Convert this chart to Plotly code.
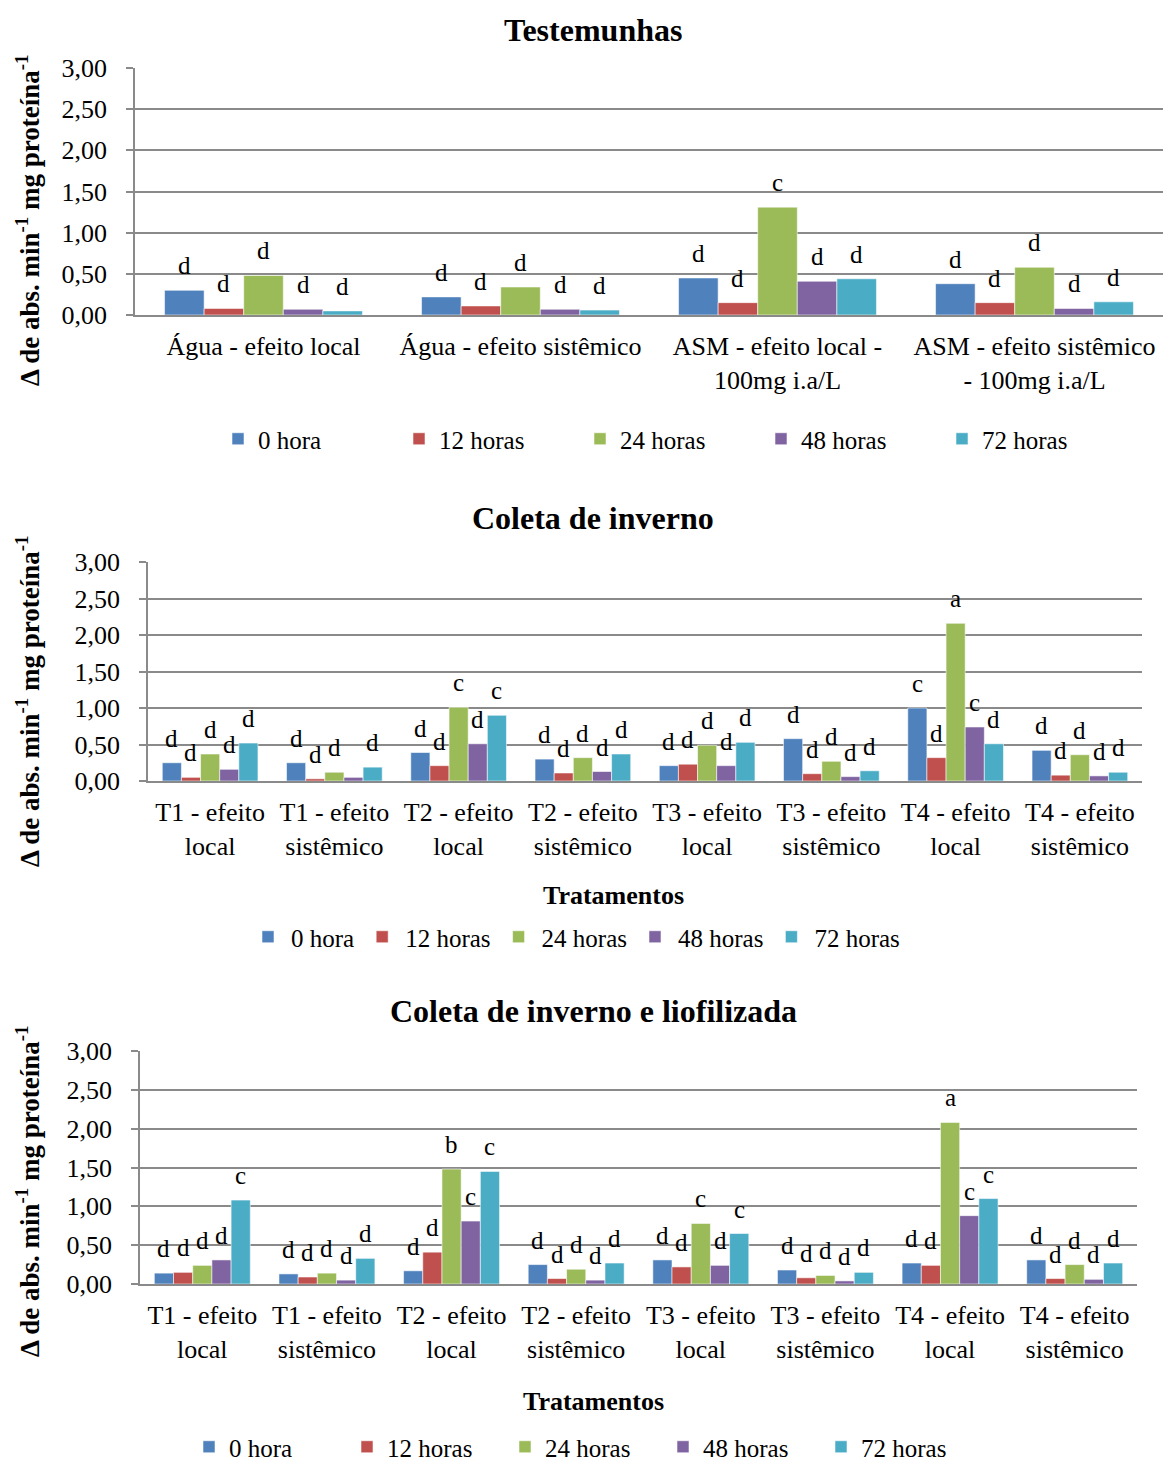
import plotly.graph_objects as go

# ---- data -------------------------------------------------------------
series_names = ["0 hora", "12 horas", "24 horas", "48 horas", "72 horas"]
series_colors = ["#4F81BD", "#C0504D", "#9BBB59", "#8064A2", "#4BACC6"]

# Testemunhas
test_categories = [
    "Água - efeito local",
    "Água - efeito sistêmico",
    "ASM - efeito local -<br>100mg i.a/L",
    "ASM - efeito sistêmico<br>- 100mg i.a/L",
]
test_values = [
    [0.30, 0.22, 0.45, 0.38],   # 0 hora
    [0.08, 0.11, 0.15, 0.15],   # 12 horas
    [0.48, 0.34, 1.31, 0.58],   # 24 horas
    [0.07, 0.07, 0.41, 0.08],   # 48 horas
    [0.05, 0.06, 0.44, 0.16],   # 72 horas
]
test_letters = [
    ["d", "d", "d", "d"],
    ["d", "d", "d", "d"],
    ["d", "d", "c", "d"],
    ["d", "d", "d", "d"],
    ["d", "d", "d", "d"],
]

# Tratamentos (coleta de inverno / coleta de inverno e liofilizada)
treat_categories = [
    "T1 - efeito<br>local", "T1 - efeito<br>sistêmico",
    "T2 - efeito<br>local", "T2 - efeito<br>sistêmico",
    "T3 - efeito<br>local", "T3 - efeito<br>sistêmico",
    "T4 - efeito<br>local", "T4 - efeito<br>sistêmico",
]

winter_values = [
    [0.25, 0.25, 0.39, 0.30, 0.21, 0.58, 1.00, 0.42],   # 0 hora
    [0.05, 0.03, 0.21, 0.11, 0.23, 0.10, 0.32, 0.08],   # 12 horas
    [0.37, 0.12, 1.01, 0.32, 0.49, 0.27, 2.16, 0.36],   # 24 horas
    [0.16, 0.05, 0.51, 0.13, 0.21, 0.06, 0.74, 0.07],   # 48 horas
    [0.52, 0.19, 0.90, 0.37, 0.53, 0.14, 0.51, 0.12],   # 72 horas
]
winter_letters = [
    ["d", "d", "d", "d", "d", "d", "c", "d"],
    ["d", "d", "d", "d", "d", "d", "d", "d"],
    ["d", "d", "c", "d", "d", "d", "a", "d"],
    ["d", "", "d", "d", "d", "d", "c", "d"],
    ["d", "d", "c", "d", "d", "d", "d", "d"],
]

lyo_values = [
    [0.14, 0.13, 0.17, 0.25, 0.31, 0.18, 0.27, 0.31],   # 0 hora
    [0.15, 0.09, 0.41, 0.07, 0.22, 0.08, 0.24, 0.07],   # 12 horas
    [0.24, 0.14, 1.48, 0.19, 0.78, 0.11, 2.08, 0.25],   # 24 horas
    [0.31, 0.05, 0.81, 0.05, 0.24, 0.04, 0.88, 0.06],   # 48 horas
    [1.08, 0.33, 1.45, 0.27, 0.65, 0.15, 1.10, 0.27],   # 72 horas
]
lyo_letters = [
    ["d", "d", "d", "d", "d", "d", "d", "d"],
    ["d", "d", "d", "d", "d", "d", "d", "d"],
    ["d", "d", "b", "d", "c", "d", "a", "d"],
    ["d", "d", "c", "d", "d", "d", "c", "d"],
    ["c", "d", "c", "d", "c", "d", "c", "d"],
]

y_ticks = [0, 0.5, 1.0, 1.5, 2.0, 2.5, 3.0]

# ---- layout helpers ---------------------------------------------------
W, H = 1163, 1461
FONT = "Liberation Serif"
GRID = "#8a8a8a"
BAR_W = 0.154


def fx(x):
    return x / W


def fy(y):
    return 1 - y / H


panels = [
    dict(title="Testemunhas", cats=test_categories, vals=test_values,
         letters=test_letters, x0=135, x1=1163, top=68, bot=315,
         title_x=593, title_y=30, xtitle=None,
         legend=dict(x=218, y=439, entry=136, itemw=30), ytitle_y=221),
    dict(title="Coleta de inverno", cats=treat_categories, vals=winter_values,
         letters=winter_letters, x0=148, x1=1142, top=562, bot=781,
         title_x=593, title_y=518, xtitle=(613, 896),
         legend=dict(x=245, y=937, entry=0, itemw=36), ytitle_y=702),
    dict(title="Coleta de inverno e liofilizada", cats=treat_categories,
         vals=lyo_values, letters=lyo_letters, x0=140, x1=1137, top=1051,
         bot=1284, title_x=593, title_y=1011, xtitle=(593, 1401),
         legend=dict(x=189, y=1447, entry=113, itemw=30), ytitle_y=1192),
]

fig = go.Figure()
annotations = []
layout_extra = {}

for p_idx, p in enumerate(panels):
    suffix = "" if p_idx == 0 else str(p_idx + 1)
    xa, ya = "x" + suffix, "y" + suffix
    legend_name = "legend" + suffix
    n = len(p["cats"])
    positions = list(range(n))

    for s_idx, name in enumerate(series_names):
        offset = (s_idx - 2) * BAR_W
        xs = [i + offset for i in positions]
        fig.add_trace(go.Bar(
            x=xs, y=p["vals"][s_idx], width=BAR_W, name=name,
            marker=dict(color=series_colors[s_idx],
                        line=dict(color="rgba(255,255,255,0.55)", width=1)),
            xaxis=xa, yaxis=ya, legend=legend_name,
        ))
        for xv, yv, lab in zip(xs, p["vals"][s_idx], p["letters"][s_idx]):
            if lab:
                annotations.append(dict(
                    x=xv, y=yv, xref=xa, yref=ya, text=lab, showarrow=False,
                    yanchor="bottom", xanchor="center", yshift=9,
                    font=dict(family=FONT, size=25, color="black"),
                ))

    layout_extra["xaxis" + suffix] = dict(
        domain=[fx(p["x0"]), fx(p["x1"])], anchor=ya,
        range=[-0.5, n - 0.5], tickmode="array", tickvals=positions,
        ticktext=p["cats"], showgrid=False, zeroline=False,
        showline=True, linecolor=GRID, linewidth=1.5, ticks="",
        tickfont=dict(family=FONT, size=26, color="black"),
        ticklabelstandoff=7, automargin=False,
    )
    layout_extra["yaxis" + suffix] = dict(
        domain=[fy(p["bot"]), fy(p["top"])], anchor=xa,
        range=[0, 3.0], tickmode="array", tickvals=y_ticks,
        tickformat=".2f", showgrid=True, gridcolor=GRID, gridwidth=1.5,
        zeroline=False, showline=True, linecolor=GRID, linewidth=1.5,
        ticks="outside", ticklen=7, tickcolor=GRID, tickwidth=1.5,
        tickfont=dict(family=FONT, size=26, color="black"),
        ticklabelstandoff=14, automargin=False,
    )
    lg = p["legend"]
    leg = dict(
        orientation="h", x=fx(lg["x"]), y=fy(lg["y"]), xanchor="left",
        yanchor="middle", font=dict(family=FONT, size=25, color="black"),
        bgcolor="rgba(0,0,0,0)", itemwidth=lg["itemw"], traceorder="normal",
    )
    if lg["entry"]:
        leg["entrywidth"] = lg["entry"]
        leg["entrywidthmode"] = "pixels"
    layout_extra[legend_name] = leg

    # panel title
    annotations.append(dict(
        x=fx(p["title_x"]), y=fy(p["title_y"]), xref="paper", yref="paper",
        text="<b>%s</b>" % p["title"], showarrow=False,
        xanchor="center", yanchor="middle",
        font=dict(family=FONT, size=32, color="black"),
    ))
    # y-axis title
    annotations.append(dict(
        x=fx(28), y=fy(p["ytitle_y"]), xref="paper", yref="paper",
        text="<b>Δ de abs. min<sup>-1</sup> mg proteína<sup>-1</sup></b>",
        showarrow=False, textangle=-90, xanchor="center", yanchor="middle",
        font=dict(family=FONT, size=27, color="black"),
    ))
    # x-axis title
    if p["xtitle"]:
        annotations.append(dict(
            x=fx(p["xtitle"][0]), y=fy(p["xtitle"][1]), xref="paper",
            yref="paper", text="<b>Tratamentos</b>", showarrow=False,
            xanchor="center", yanchor="middle",
            font=dict(family=FONT, size=26, color="black"),
        ))

fig.update_layout(
    width=W, height=H,
    margin=dict(l=0, r=0, t=0, b=0, autoexpand=False),
    paper_bgcolor="white", plot_bgcolor="white",
    barmode="overlay", separators=",.",
    font=dict(family=FONT, color="black"),
    annotations=annotations, **layout_extra,
)

fig.write_html("out.html")
